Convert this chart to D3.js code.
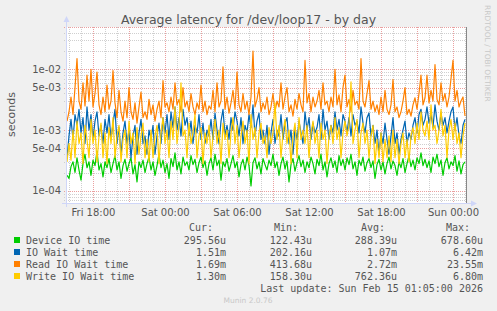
<!DOCTYPE html>
<html>
<head>
<meta charset="utf-8">
<script src="https://cdn.jsdelivr.net/npm/d3@7"></script>
<style>
  body { margin: 0; background: #f0f0f0; }
  svg { display: block; font-family: "DejaVu Sans", sans-serif; }
</style>
</head>
<body>
<svg id="chart" width="497" height="311"></svg>
<script>
// Last update of the rrd, samples every 10 minutes, values in milliseconds
const endTime = new Date(2026, 1, 15, 1, 5, 0);
const stepMinutes = 10;

const deviceIO = [
  0.18, 0.16, 0.25, 0.30, 0.20, 0.35, 0.22, 0.15, 0.28, 0.40, 0.24, 0.30, 0.18, 0.32, 0.26, 0.45, 0.22, 0.28, 0.17, 0.30,
  0.24, 0.34, 0.20, 0.28, 0.38, 0.22, 0.30, 0.16, 0.26, 0.33, 0.21, 0.28, 0.35, 0.19, 0.27, 0.14, 0.30, 0.24, 0.32, 0.20,
  0.28, 0.36, 0.22, 0.30, 0.18, 0.26, 0.40, 0.24, 0.32, 0.20, 0.28, 0.16, 0.34, 0.25, 0.42, 0.22, 0.30, 0.19, 0.36, 0.26,
  0.30, 0.22, 0.38, 0.27, 0.33, 0.20, 0.29, 0.36, 0.24, 0.31, 0.18, 0.28, 0.35, 0.22, 0.40, 0.26, 0.32, 0.15, 0.30, 0.25,
  0.34, 0.21, 0.28, 0.38, 0.24, 0.30, 0.17, 0.27, 0.33, 0.22, 0.36, 0.26, 0.12, 0.29, 0.35, 0.23, 0.30, 0.19, 0.34, 0.27,
  0.22, 0.32, 0.26, 0.40, 0.24, 0.30, 0.18, 0.28, 0.36, 0.23, 0.31, 0.14, 0.27, 0.34, 0.21, 0.29, 0.38, 0.25, 0.32, 0.20,
  0.30, 0.24, 0.36, 0.28, 0.19, 0.33, 0.26, 0.40, 0.22, 0.30, 0.17, 0.28, 0.35, 0.24, 0.31, 0.20, 0.38, 0.26, 0.33, 0.22,
  0.35, 0.27, 0.40, 0.23, 0.30, 0.18, 0.32, 0.26, 0.36, 0.21, 0.29, 0.34, 0.24, 0.31, 0.16, 0.27, 0.33, 0.22, 0.30, 0.19,
  0.28, 0.36, 0.23, 0.31, 0.26, 0.18, 0.30, 0.24, 0.34, 0.20, 0.28, 0.38, 0.25, 0.32, 0.22, 0.35, 0.28, 0.42, 0.26, 0.33,
  0.24, 0.31, 0.20, 0.36, 0.28, 0.40, 0.25, 0.32, 0.18, 0.29, 0.35, 0.23, 0.30, 0.26, 0.38, 0.21, 0.31, 0.19, 0.27, 0.30
];

const ioWait = [
  0.35, 0.8, 1.5, 0.7, 1.8, 1.2, 2.2, 0.9, 1.6, 0.6, 2.4, 1.0, 1.8, 0.7, 1.4, 2.0, 0.8, 1.2, 0.6, 1.5,
  0.9, 1.8, 0.7, 1.3, 2.2, 0.6, 1.1, 0.4, 0.9, 1.4, 0.6, 1.0, 0.35, 0.8, 1.2, 0.4, 0.9, 1.5, 0.6, 0.8,
  0.4, 1.0, 0.7, 1.2, 0.4, 0.8, 1.3, 0.6, 1.6, 0.9, 1.8, 0.7, 2.0, 1.1, 2.4, 1.0, 1.6, 0.8, 2.2, 1.2,
  1.6, 0.8, 1.4, 0.6, 1.2, 0.9, 1.8, 0.7, 1.3, 0.6, 1.0, 0.8, 1.5, 0.7, 1.9, 1.0, 0.6, 1.4, 2.2, 0.8,
  1.2, 0.7, 1.6, 1.0, 2.0, 1.4, 0.8, 1.6, 0.6, 1.2, 0.9, 1.8, 1.1, 2.6, 0.8, 1.4, 1.9, 0.7, 1.0, 0.6,
  1.2, 0.4, 0.9, 1.5, 0.6, 1.0, 0.8, 1.8, 0.7, 1.3, 1.6, 0.6, 1.0, 0.4, 1.1, 0.7, 1.4, 0.9, 0.6, 2.0,
  1.0, 1.6, 0.7, 1.3, 0.9, 1.1, 1.8, 0.7, 2.2, 1.0, 1.4, 0.7, 1.2, 0.9, 2.0, 1.0, 1.5, 0.8, 1.8, 1.4,
  0.9, 1.6, 0.8, 1.8, 1.2, 1.4, 0.9, 2.4, 1.3, 0.9, 1.6, 1.9, 0.8, 1.2, 0.6, 1.0, 0.4, 0.9, 0.6, 1.3,
  0.7, 0.4, 0.8, 1.6, 0.6, 0.9, 0.4, 0.7, 1.0, 1.4, 0.6, 0.9, 0.7, 1.2, 1.6, 0.9, 1.8, 2.2, 1.2, 1.5,
  2.4, 1.3, 1.8, 1.1, 2.6, 1.4, 1.0, 1.9, 1.2, 1.6, 0.9, 1.4, 2.0, 2.4, 1.0, 1.6, 0.8, 0.6, 1.2, 1.5
];

const readWait = [
  1.4, 2.0, 3.5, 1.8, 5.0, 15, 3.0, 2.2, 6.0, 2.5, 8.0, 3.0, 10, 2.4, 4.0, 9.0, 2.6, 1.8, 3.5, 2.0,
  5.5, 2.2, 3.0, 9.5, 2.8, 1.6, 4.5, 2.0, 1.4, 3.0, 1.6, 5.0, 2.0, 1.5, 2.8, 1.3, 2.4, 4.2, 1.6, 2.0,
  1.5, 3.2, 1.8, 2.6, 1.4, 2.2, 3.0, 1.6, 6.5, 2.4, 2.8, 2.0, 3.5, 2.2, 6.0, 2.6, 3.2, 2.0, 5.0, 2.4,
  3.0, 2.0, 4.0, 2.4, 1.8, 2.8, 2.2, 5.5, 2.0, 3.0, 1.8, 2.5, 2.2, 4.5, 2.0, 6.0, 2.4, 3.0, 11, 2.2,
  3.5, 1.9, 2.8, 4.5, 2.2, 9.0, 2.6, 2.0, 4.0, 2.2, 3.0, 1.8, 3.5, 20, 2.4, 3.2, 5.0, 2.0, 2.8, 2.2,
  3.5, 1.8, 2.4, 4.0, 2.0, 3.0, 2.4, 6.0, 2.2, 3.5, 5.0, 2.0, 2.6, 1.7, 3.2, 2.2, 4.0, 2.6, 2.0, 14,
  2.8, 4.0, 2.0, 3.5, 2.4, 3.0, 4.5, 2.2, 6.0, 2.6, 3.0, 2.0, 3.5, 2.4, 10, 2.6, 3.8, 2.0, 5.0, 8.0,
  2.4, 3.2, 2.0, 4.5, 2.6, 3.0, 2.2, 15, 3.0, 2.4, 4.0, 6.5, 2.2, 3.0, 2.0, 2.6, 1.8, 3.5, 2.0, 4.5,
  2.2, 1.8, 2.6, 6.8, 2.0, 2.4, 1.6, 2.0, 3.0, 5.0, 1.8, 2.2, 1.7, 2.6, 3.4, 2.2, 4.0, 8.0, 2.6, 3.4,
  8.0, 2.8, 4.5, 3.0, 12, 3.2, 2.6, 6.0, 3.0, 4.0, 2.4, 3.5, 7.0, 14, 3.0, 4.5, 2.4, 3.0, 3.5, 1.7
];

const writeWait = [
  0.3, 0.6, 0.32, 1.0, 0.35, 1.4, 0.6, 0.9, 0.28, 1.2, 0.7, 0.35, 1.5, 0.6, 1.0, 0.3, 0.8, 1.3, 0.35, 0.9,
  0.28, 1.1, 0.6, 1.6, 0.35, 0.8, 1.2, 0.3, 0.7, 1.0, 0.35, 1.4, 0.6, 0.9, 0.28, 1.1, 0.4, 0.8, 1.3, 0.35,
  0.7, 0.3, 1.0, 0.35, 0.8, 1.2, 0.28, 0.9, 1.6, 0.6, 1.0, 0.35, 1.4, 0.7, 2.4, 0.6, 1.2, 6.0, 0.8, 1.0,
  0.35, 1.3, 0.6, 0.9, 1.8, 0.35, 0.8, 1.1, 0.28, 0.9, 0.6, 1.2, 0.35, 0.8, 1.5, 0.6, 1.0, 0.28, 1.3, 0.7,
  1.0, 0.35, 0.9, 1.6, 0.6, 1.2, 0.35, 0.8, 1.4, 0.6, 1.0, 0.28, 1.8, 0.7, 1.1, 0.35, 0.9, 1.3, 0.6, 0.8,
  0.35, 1.1, 0.6, 0.9, 2.8, 0.7, 1.2, 0.35, 0.9, 1.5, 0.6, 1.0, 0.28, 0.8, 1.3, 0.35, 1.6, 0.7, 1.0, 0.6,
  1.2, 0.35, 0.9, 1.4, 0.6, 1.0, 0.35, 1.3, 0.7, 1.0, 0.28, 0.8, 1.2, 0.6, 1.6, 0.7, 1.1, 0.35, 0.9, 1.4,
  0.8, 1.2, 6.2, 0.6, 1.0, 1.5, 0.35, 0.9, 1.3, 0.6, 1.0, 0.35, 0.8, 1.2, 0.28, 0.7, 0.35, 0.9, 0.3, 0.7,
  0.35, 0.8, 0.3, 1.0, 0.35, 0.7, 0.28, 0.6, 0.9, 0.35, 0.7, 0.3, 0.8, 1.1, 0.6, 1.3, 0.7, 2.0, 1.0, 0.8,
  1.4, 0.7, 2.6, 1.0, 1.2, 0.6, 1.0, 2.2, 0.8, 1.2, 0.35, 1.0, 1.5, 0.7, 1.3, 0.6, 0.9, 0.35, 0.8, 1.3
];

const seriesNames = ["Device IO time", "IO Wait time", "Read IO Wait time", "Write IO Wait time"];
const seriesColors = ["#00cc00", "#0066b3", "#ff8000", "#ffcc00"];
const curValues = ["295.56u", "1.51m", "1.69m", "1.30m"];
const minValues = ["122.43u", "202.16u", "413.68u", "158.30u"];
const avgValues = ["288.39u", "1.07m", "2.72m", "762.36u"];
const maxValues = ["678.60u", "6.42m", "23.55m", "6.80m"];
const yTickValues = [1e-4, 5e-4, 1e-3, 5e-3, 1e-2];

const svg = d3.select("#chart");
const plot = { left: 66, right: 466, top: 27, bottom: 203 };

const x = d3.scaleTime()
  .domain([d3.timeMinute.offset(endTime, -2000), endTime])
  .range([plot.left, plot.right]);

const y = d3.scaleLog()
  .domain([1e-4, 1e-2])
  .range([190.8, 69.3]);

// canvas
svg.append("rect")
  .attr("x", plot.left).attr("y", plot.top)
  .attr("width", plot.right - plot.left).attr("height", plot.bottom - plot.top)
  .attr("fill", "#fff");

// horizontal grid: minor for every multiple, red for 1 and 5
const hGrid = [];
for (let e = -5; e <= -1; e++) {
  for (let m = 1; m <= 9; m++) {
    const v = m * Math.pow(10, e);
    const py = y(v);
    if (py >= plot.top - 0.5 && py <= plot.bottom) hGrid.push({ v, m, py });
  }
}
svg.append("g").selectAll("line")
  .data(hGrid)
  .join("line")
  .attr("x1", plot.left - 2).attr("x2", plot.right + 2)
  .attr("y1", d => Math.round(d.py) + 0.5).attr("y2", d => Math.round(d.py) + 0.5)
  .attr("stroke", d => (d.m === 1 || d.m === 5) ? "#eaa0a0" : "#cfcfcf")
  .attr("stroke-dasharray", "1,1");

// vertical grid: hourly, red every 3 hours
const hours = d3.timeHour.every(1).range(x.domain()[0], x.domain()[1]);
svg.append("g").selectAll("line")
  .data(hours)
  .join("line")
  .attr("x1", d => Math.round(x(d)) + 0.5).attr("x2", d => Math.round(x(d)) + 0.5)
  .attr("y1", plot.top).attr("y2", plot.bottom + 2)
  .attr("stroke", d => d.getHours() % 3 === 0 ? "#eaa0a0" : "#cfcfcf")
  .attr("stroke-dasharray", "1,1");

// series
const start = d3.timeMinute.offset(endTime, -stepMinutes * (deviceIO.length - 1) - 5);
const allSeries = [deviceIO, ioWait, readWait, writeWait];
const line = d3.line()
  .x((d, i) => x(d3.timeMinute.offset(start, i * stepMinutes)))
  .y(d => y(d / 1000));

svg.append("clipPath").attr("id", "clip")
  .append("rect")
  .attr("x", plot.left).attr("y", plot.top)
  .attr("width", plot.right - plot.left).attr("height", plot.bottom - plot.top);

svg.append("g").attr("clip-path", "url(#clip)")
  .selectAll("path")
  .data(allSeries)
  .join("path")
  .attr("fill", "none")
  .attr("stroke", (d, i) => seriesColors[i])
  .attr("stroke-width", 1.2)
  .attr("stroke-linejoin", "round")
  .attr("d", line);

// right edge line
svg.append("line")
  .attr("x1", plot.right + 0.5).attr("x2", plot.right + 0.5)
  .attr("y1", plot.top).attr("y2", plot.bottom)
  .attr("stroke", "#888");

// axes with arrows
const axisColor = "#cfd6f8";
svg.append("line")
  .attr("x1", plot.left + 0.5).attr("x2", plot.left + 0.5)
  .attr("y1", plot.bottom + 4).attr("y2", plot.top - 5)
  .attr("stroke", axisColor);
svg.append("path")
  .attr("d", `M${plot.left - 2.5},${plot.top - 5}L${plot.left + 0.5},${plot.top - 11}L${plot.left + 3.5},${plot.top - 5}Z`)
  .attr("fill", axisColor);
svg.append("line")
  .attr("x1", plot.left - 4).attr("x2", plot.right + 5)
  .attr("y1", plot.bottom + 0.5).attr("y2", plot.bottom + 0.5)
  .attr("stroke", axisColor);
svg.append("path")
  .attr("d", `M${plot.right + 5},${plot.bottom - 2.5}L${plot.right + 11},${plot.bottom + 0.5}L${plot.right + 5},${plot.bottom + 3.5}Z`)
  .attr("fill", axisColor);

// tick labels
const fmtExp = v => {
  const e = Math.floor(Math.log10(v) + 1e-9);
  const m = Math.round(v / Math.pow(10, e));
  return `${m}e-${String(-e).padStart(2, "0")}`;
};
svg.append("g").selectAll("text")
  .data(yTickValues)
  .join("text")
  .attr("x", 61).attr("y", d => y(d))
  .attr("dy", "0.35em")
  .attr("text-anchor", "end")
  .attr("font-size", 10)
  .attr("fill", "#555")
  .text(fmtExp);

const labelHours = hours.filter(d => d.getHours() % 6 === 0);
svg.append("g").selectAll("text")
  .data(labelHours)
  .join("text")
  .attr("x", d => x(d) + 0.5).attr("y", 216)
  .attr("text-anchor", "middle")
  .attr("font-size", 10)
  .attr("fill", "#555")
  .text(d3.timeFormat("%a %H:%M"));

// titles
svg.append("text")
  .attr("x", 248.5).attr("y", 24)
  .attr("text-anchor", "middle")
  .attr("font-size", 12.5)
  .attr("fill", "#555")
  .text("Average latency for /dev/loop17 - by day");

svg.append("text")
  .attr("transform", "translate(15,114.5) rotate(-90)")
  .attr("text-anchor", "middle")
  .attr("font-size", 11)
  .attr("fill", "#555")
  .text("seconds");

svg.append("text")
  .attr("transform", "translate(485,5) rotate(90)")
  .attr("font-size", 7.5)
  .attr("fill", "#c8c8c8")
  .text("RRDTOOL / TOBI OETIKER");

// legend
const mono = "'DejaVu Sans Mono', monospace";
const headers = [["Cur:", 213], ["Min:", 298], ["Avg:", 385], ["Max:", 470]];
svg.append("g").selectAll("text")
  .data(headers)
  .join("text")
  .attr("x", d => d[1]).attr("y", 231)
  .attr("text-anchor", "end")
  .attr("font-family", mono).attr("font-size", 10)
  .attr("fill", "#555")
  .text(d => d[0]);

const rows = svg.append("g").selectAll("g")
  .data(seriesNames)
  .join("g")
  .attr("transform", (d, i) => `translate(0,${240 + i * 12})`);

rows.append("rect")
  .attr("x", 14).attr("y", -3)
  .attr("width", 6).attr("height", 6)
  .attr("fill", (d, i) => seriesColors[i]);

rows.append("text")
  .attr("x", 26).attr("y", 3.5)
  .attr("font-family", mono).attr("font-size", 10)
  .attr("fill", "#555")
  .text(d => d);

const columns = [[curValues, 226], [minValues, 312], [avgValues, 397], [maxValues, 483]];
columns.forEach(([vals, cx]) => {
  rows.append("text")
    .attr("x", cx).attr("y", 3.5)
    .attr("text-anchor", "end")
    .attr("font-family", mono).attr("font-size", 10)
    .attr("fill", "#555")
    .text((d, i) => vals[i]);
});

svg.append("text")
  .attr("x", 483).attr("y", 291.5)
  .attr("text-anchor", "end")
  .attr("font-family", mono).attr("font-size", 10)
  .attr("fill", "#555")
  .text("Last update: Sun Feb 15 01:05:00 2026");

svg.append("text")
  .attr("x", 248).attr("y", 303)
  .attr("text-anchor", "middle")
  .attr("font-size", 7.5)
  .attr("fill", "#c8c8c8")
  .text("Munin 2.0.76");
</script>
</body>
</html>
